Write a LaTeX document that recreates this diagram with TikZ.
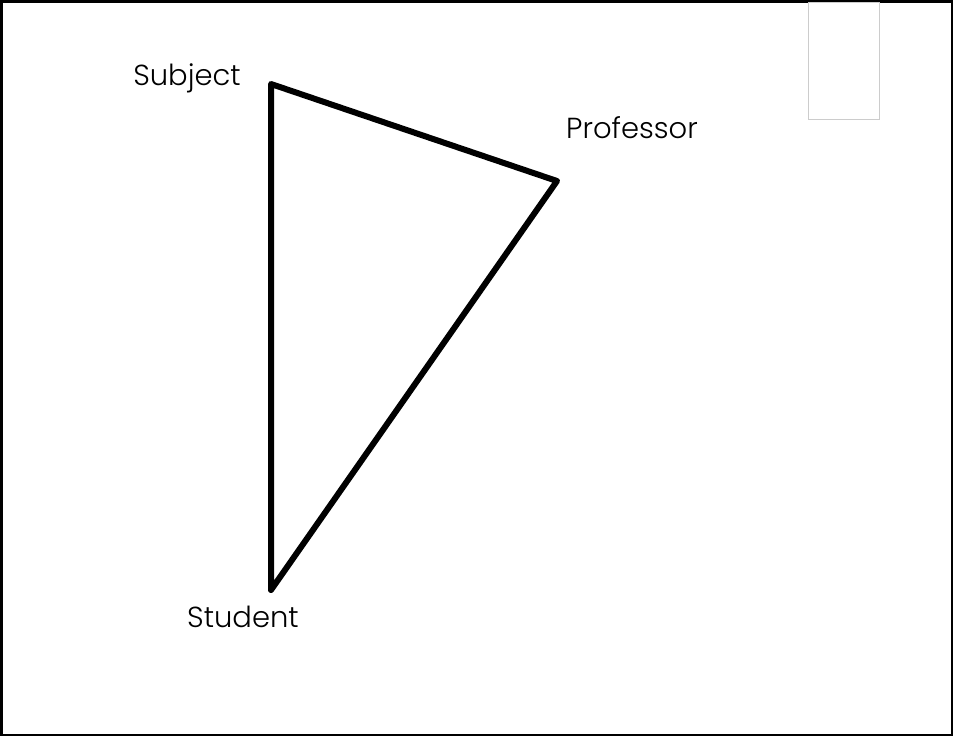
\documentclass[tikz,border=0pt]{standalone}
\usepackage{fontspec}
\setmainfont{Poppins Light}
\begin{document}
\begin{tikzpicture}[x=1pt,y=-1pt,
  lbl/.style={inner sep=0pt,font=\fontsize{29}{34}\selectfont},
  tri/.style={line width=6pt,line join=round,line cap=round}]
\useasboundingbox (0,0) rectangle (953,736);
\draw[line width=2.5pt] (1.25,1.25) rectangle (951.75,734.75);
\draw[gray!40,line width=1pt] (808.5,2) rectangle (879.5,119.5);
\coordinate (subj) at (271,84);
\coordinate (prof) at (557,181);
\coordinate (stud) at (271,590);
\draw[tri] (subj) -- (prof) -- (stud) -- cycle;
\node[lbl] (subjl) at (187,78) {Subject};
\node[lbl] (profl) at (632,128) {Professor};
\node[lbl] (studl) at (243,617) {Student};
\end{tikzpicture}
\end{document}
